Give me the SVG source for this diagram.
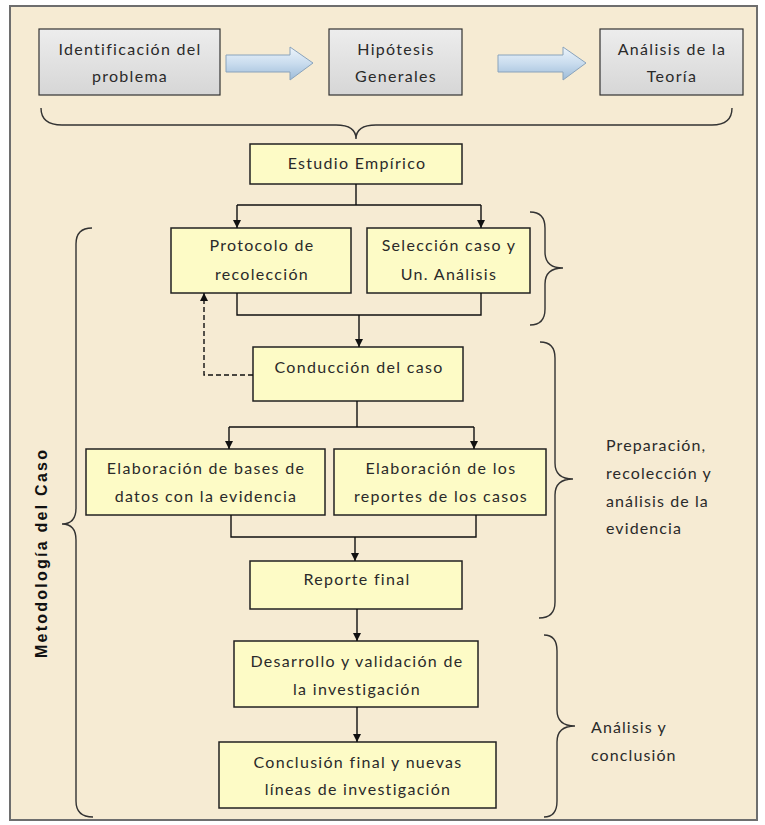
<svg xmlns="http://www.w3.org/2000/svg" width="765" height="825" viewBox="0 0 765 825">
<defs>
<style>
.t{font-family:Lato,"Open Sans","Liberation Sans",sans-serif;font-size:16px;fill:#2a2a2a;text-anchor:middle;letter-spacing:1.3px}
.tl{font-family:Lato,"Open Sans","Liberation Sans",sans-serif;font-size:16px;fill:#2a2a2a;letter-spacing:1.1px}
.yb{fill:#fdfbc6;stroke:#222;stroke-width:1.5}
.gb{fill:url(#gg);stroke:#333;stroke-width:1.2}
.ln{fill:none;stroke:#111;stroke-width:1.4}
.br{fill:none;stroke:#333;stroke-width:1.4}
.ba{fill:url(#bg);stroke:#8aa3bb;stroke-width:1}
</style>
<linearGradient id="gg" x1="0" y1="0" x2="0" y2="1"><stop offset="0" stop-color="#ededed"/><stop offset="1" stop-color="#d6d6d6"/></linearGradient>
<linearGradient id="bg" x1="0" y1="0" x2="0" y2="1"><stop offset="0" stop-color="#eef5fb"/><stop offset="0.5" stop-color="#c9dcee"/><stop offset="1" stop-color="#9dbbd8"/></linearGradient>
<marker id="ah" viewBox="0 0 10 10" refX="10" refY="5" markerWidth="8" markerHeight="8" markerUnits="userSpaceOnUse" orient="auto"><path d="M0,0 L10,5 L0,10 Z" fill="#111"/></marker>
</defs>
<rect x="0" y="0" width="765" height="825" fill="#ffffff"/>
<rect x="10" y="6" width="747" height="814" fill="#f6ebd3" stroke="#6e6e6e" stroke-width="2"/>

<g id="n-identificacion"><rect class="gb" x="39" y="29" width="181" height="66"/><text class="t" x="130" y="55">Identificación del</text><text class="t" x="130" y="82">problema</text></g>
<g id="n-hipotesis"><rect class="gb" x="329" y="29" width="133" height="66"/><text class="t" x="396" y="55">Hipótesis</text><text class="t" x="396" y="82">Generales</text></g>
<g id="n-analisis-teoria"><rect class="gb" x="600" y="29" width="143" height="66"/><text class="t" x="672" y="55">Análisis de la</text><text class="t" x="672" y="82">Teoría</text></g>

<g id="n-estudio"><rect class="yb" x="250" y="144" width="212" height="40"/><text class="t" x="357" y="169">Estudio Empírico</text></g>
<g id="n-protocolo"><rect class="yb" x="171" y="228" width="180" height="65"/><text class="t" x="262" y="251">Protocolo de</text><text class="t" x="262" y="280">recolección</text></g>
<g id="n-seleccion"><rect class="yb" x="367" y="228" width="163" height="65"/><text class="t" x="449" y="251">Selección caso y</text><text class="t" x="449" y="280">Un. Análisis</text></g>
<g id="n-conduccion"><rect class="yb" x="253" y="347" width="210" height="54"/><text class="t" x="359" y="373">Conducción del caso</text></g>
<g id="n-bases"><rect class="yb" x="86" y="449" width="239" height="66"/><text class="t" x="206" y="474">Elaboración de bases de</text><text class="t" x="206" y="502">datos con la evidencia</text></g>
<g id="n-reportes"><rect class="yb" x="334" y="449" width="212" height="66"/><text class="t" x="441" y="474">Elaboración de los</text><text class="t" x="441" y="502">reportes de los casos</text></g>
<g id="n-reporte-final"><rect class="yb" x="250" y="561" width="212" height="48"/><text class="t" x="357" y="585">Reporte final</text></g>
<g id="n-desarrollo"><rect class="yb" x="234" y="641" width="244" height="66"/><text class="t" x="357" y="667">Desarrollo y validación de</text><text class="t" x="357" y="695">la investigación</text></g>
<g id="n-conclusion"><rect class="yb" x="219" y="742" width="277" height="66"/><text class="t" x="358" y="768">Conclusión final y nuevas</text><text class="t" x="358" y="795">líneas de investigación</text></g>

<g id="connectors">
<path class="ba" d="M226,55 L290,55 L290,47 L313,63 L290,80 L290,72 L226,72 Z"/>
<path class="ba" d="M498,55 L563,55 L563,47 L586,63 L563,80 L563,72 L498,72 Z"/>
<path class="ln" d="M356,184 V205"/>
<path class="ln" d="M237,205 H481"/>
<path class="ln" d="M237,205 V228" marker-end="url(#ah)"/>
<path class="ln" d="M481,205 V228" marker-end="url(#ah)"/>
<path class="ln" d="M237,293 V315 H481 V293"/>
<path class="ln" d="M359,315 V347" marker-end="url(#ah)"/>
<path class="ln" d="M253,375 H204 V293" stroke-dasharray="5,3" marker-end="url(#ah)"/>
<path class="ln" d="M357,401 V427"/>
<path class="ln" d="M229,427 H474"/>
<path class="ln" d="M229,427 V449" marker-end="url(#ah)"/>
<path class="ln" d="M474,427 V449" marker-end="url(#ah)"/>
<path class="ln" d="M231,515 V537 H476 V515"/>
<path class="ln" d="M355,537 V561" marker-end="url(#ah)"/>
<path class="ln" d="M357,609 V641" marker-end="url(#ah)"/>
<path class="ln" d="M357,707 V742" marker-end="url(#ah)"/>
</g>

<g id="braces">
<path class="br" d="M41,108 Q41,125 62,125 L336,125 Q356,125 356,139 Q356,125 376,125 L712,125 Q732,125 732,108"/>
<path class="br" d="M530,212 Q545,212 545,228 L545,252 Q545,268 563,268 Q545,268 545,284 L545,309 Q545,325 530,325"/>
<path class="br" d="M540,342 Q555,342 555,358 L555,463 Q555,479 573,479 Q555,479 555,495 L555,602 Q555,618 539,618"/>
<path class="br" d="M544,635 Q557,635 557,651 L557,710 Q557,726 575,726 Q557,726 557,742 L557,801 Q557,817 544,817"/>
<path class="br" d="M92,228 Q76,228 76,244 L76,508 Q76,524 62,524 Q76,524 76,540 L76,801 Q76,817 93,817"/>
</g>

<g id="labels">
<text class="tl" x="606" y="451">Preparación,</text>
<text class="tl" x="606" y="479">recolección y</text>
<text class="tl" x="606" y="507">análisis de la</text>
<text class="tl" x="606" y="534">evidencia</text>
<text class="tl" x="591" y="733">Análisis y</text>
<text class="tl" x="591" y="761">conclusión</text>
<text transform="translate(47,554) rotate(-90)" textLength="208" lengthAdjust="spacing" style="font-family:'Liberation Sans',Arial,sans-serif;font-size:16px;font-weight:bold;fill:#111;text-anchor:middle">Metodología del Caso</text>
</g>
</svg>
